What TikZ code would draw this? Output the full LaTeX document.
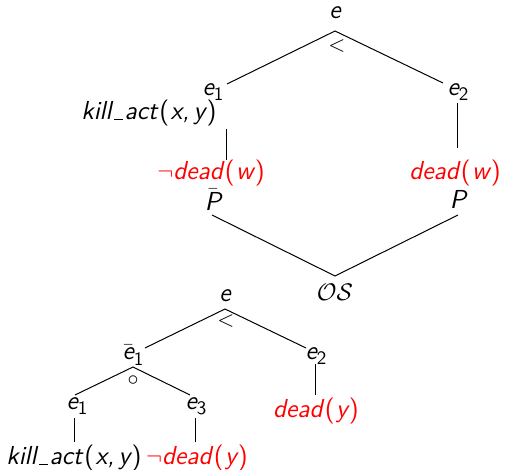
\documentclass[tikz,border=0pt]{standalone}
\usepackage{fontspec}
\newcommand\withsub[2]{#1\raisebox{-0.45ex}{\fontsize{9.5}{10}\selectfont\upshape #2}}
\newcommand\pth[1]{\kern0.08em{\upshape(}\kern0.05em#1\kern0.05em{\upshape)}}
\newcommand\lowbar{\kern0.1em\rule[-0.02ex]{0.32em}{0.45pt}\kern0.08em}
\newcommand\barred[1]{$\bar{\hbox{#1}}$}
\begin{document}
\begin{tikzpicture}[x=0.5pt,y=-0.5pt,
  every node/.style={font=\fontsize{13}{15}\selectfont\sffamily\itshape, inner sep=0pt},
  fact/.style={text=red},
  op/.style={font=\fontsize{10.5}{11}\selectfont},
  edge/.style={draw=black, line width=0.5pt}]
\useasboundingbox (0,0) rectangle (505,470);

% upper tree: e < (e1, e2)
\node (e) at (335,13) {e};
\coordinate (eV) at (335,31);
\node[op] (lt) at (337,46) {$<$};
\node (ea) at (213,92) {\withsub{e}{1}};
\node (eb) at (458,92) {\withsub{e}{2}};
\coordinate (eaT) at (227,84);
\coordinate (ebT) at (443,83);
\draw[edge] (eaT) -- (eV) -- (ebT);

\node[anchor=east] (kill) at (217,113) {kill\lowbar act\pth{x,\,y}};
\coordinate (eaA) at (227,129);
\coordinate (eaB) at (227,160);
\draw[edge] (eaA) -- (eaB);
\node[fact] (nd) at (211,173) {{\upshape$\neg$}dead\pth{w}};
\coordinate (ebA) at (458,103);
\coordinate (ebB) at (458,148);
\draw[edge] (ebA) -- (ebB);
\node[fact] (dw) at (455,173) {dead\pth{w}};

\node (Pb) at (213,200) {\barred{P}};
\node (P) at (458,199) {P};
\coordinate (PbB) at (212,215);
\coordinate (PB) at (458,215);
\coordinate (osV) at (335,276);
\draw[edge] (PbB) -- (osV) -- (PB);
\node (os) at (335,292) {$\mathcal{OS}$};

% lower tree: e < (e1bar, e2), e1bar = e1 o e3
\node (f) at (225,296) {e};
\coordinate (fV) at (225,309);
\node[op] (lt2) at (226,321) {$<$};
\node (fa) at (133,355) {\withsub{\barred{e}}{1}};
\node (fb) at (316,356) {\withsub{e}{2}};
\coordinate (faT) at (145,348);
\coordinate (fbT) at (306,348);
\draw[edge] (faT) -- (fV) -- (fbT);

\coordinate (faV) at (133,367);
\node[op] (circ) at (133,381) {$\circ$};
\node (g1) at (77,406) {\withsub{e}{1}};
\node (g3) at (196,406) {\withsub{e}{3}};
\coordinate (g1T) at (75,395);
\coordinate (g3T) at (190,395);
\draw[edge] (g1T) -- (faV) -- (g3T);

\coordinate (g1A) at (75,418);
\coordinate (g1B) at (75,442);
\coordinate (g3A) at (196,418);
\coordinate (g3B) at (196,442);
\draw[edge] (g1A) -- (g1B);
\draw[edge] (g3A) -- (g3B);
\node (kill2) at (74,458) {kill\lowbar act\pth{x,\,y}};
\node[fact] (nd2) at (197,458) {{\upshape$\neg$}dead\pth{y}};

\coordinate (fbA) at (316,364);
\coordinate (fbB) at (316,395);
\draw[edge] (fbA) -- (fbB);
\node[fact] (dy) at (316,411) {dead\pth{y}};
\end{tikzpicture}
\end{document}
